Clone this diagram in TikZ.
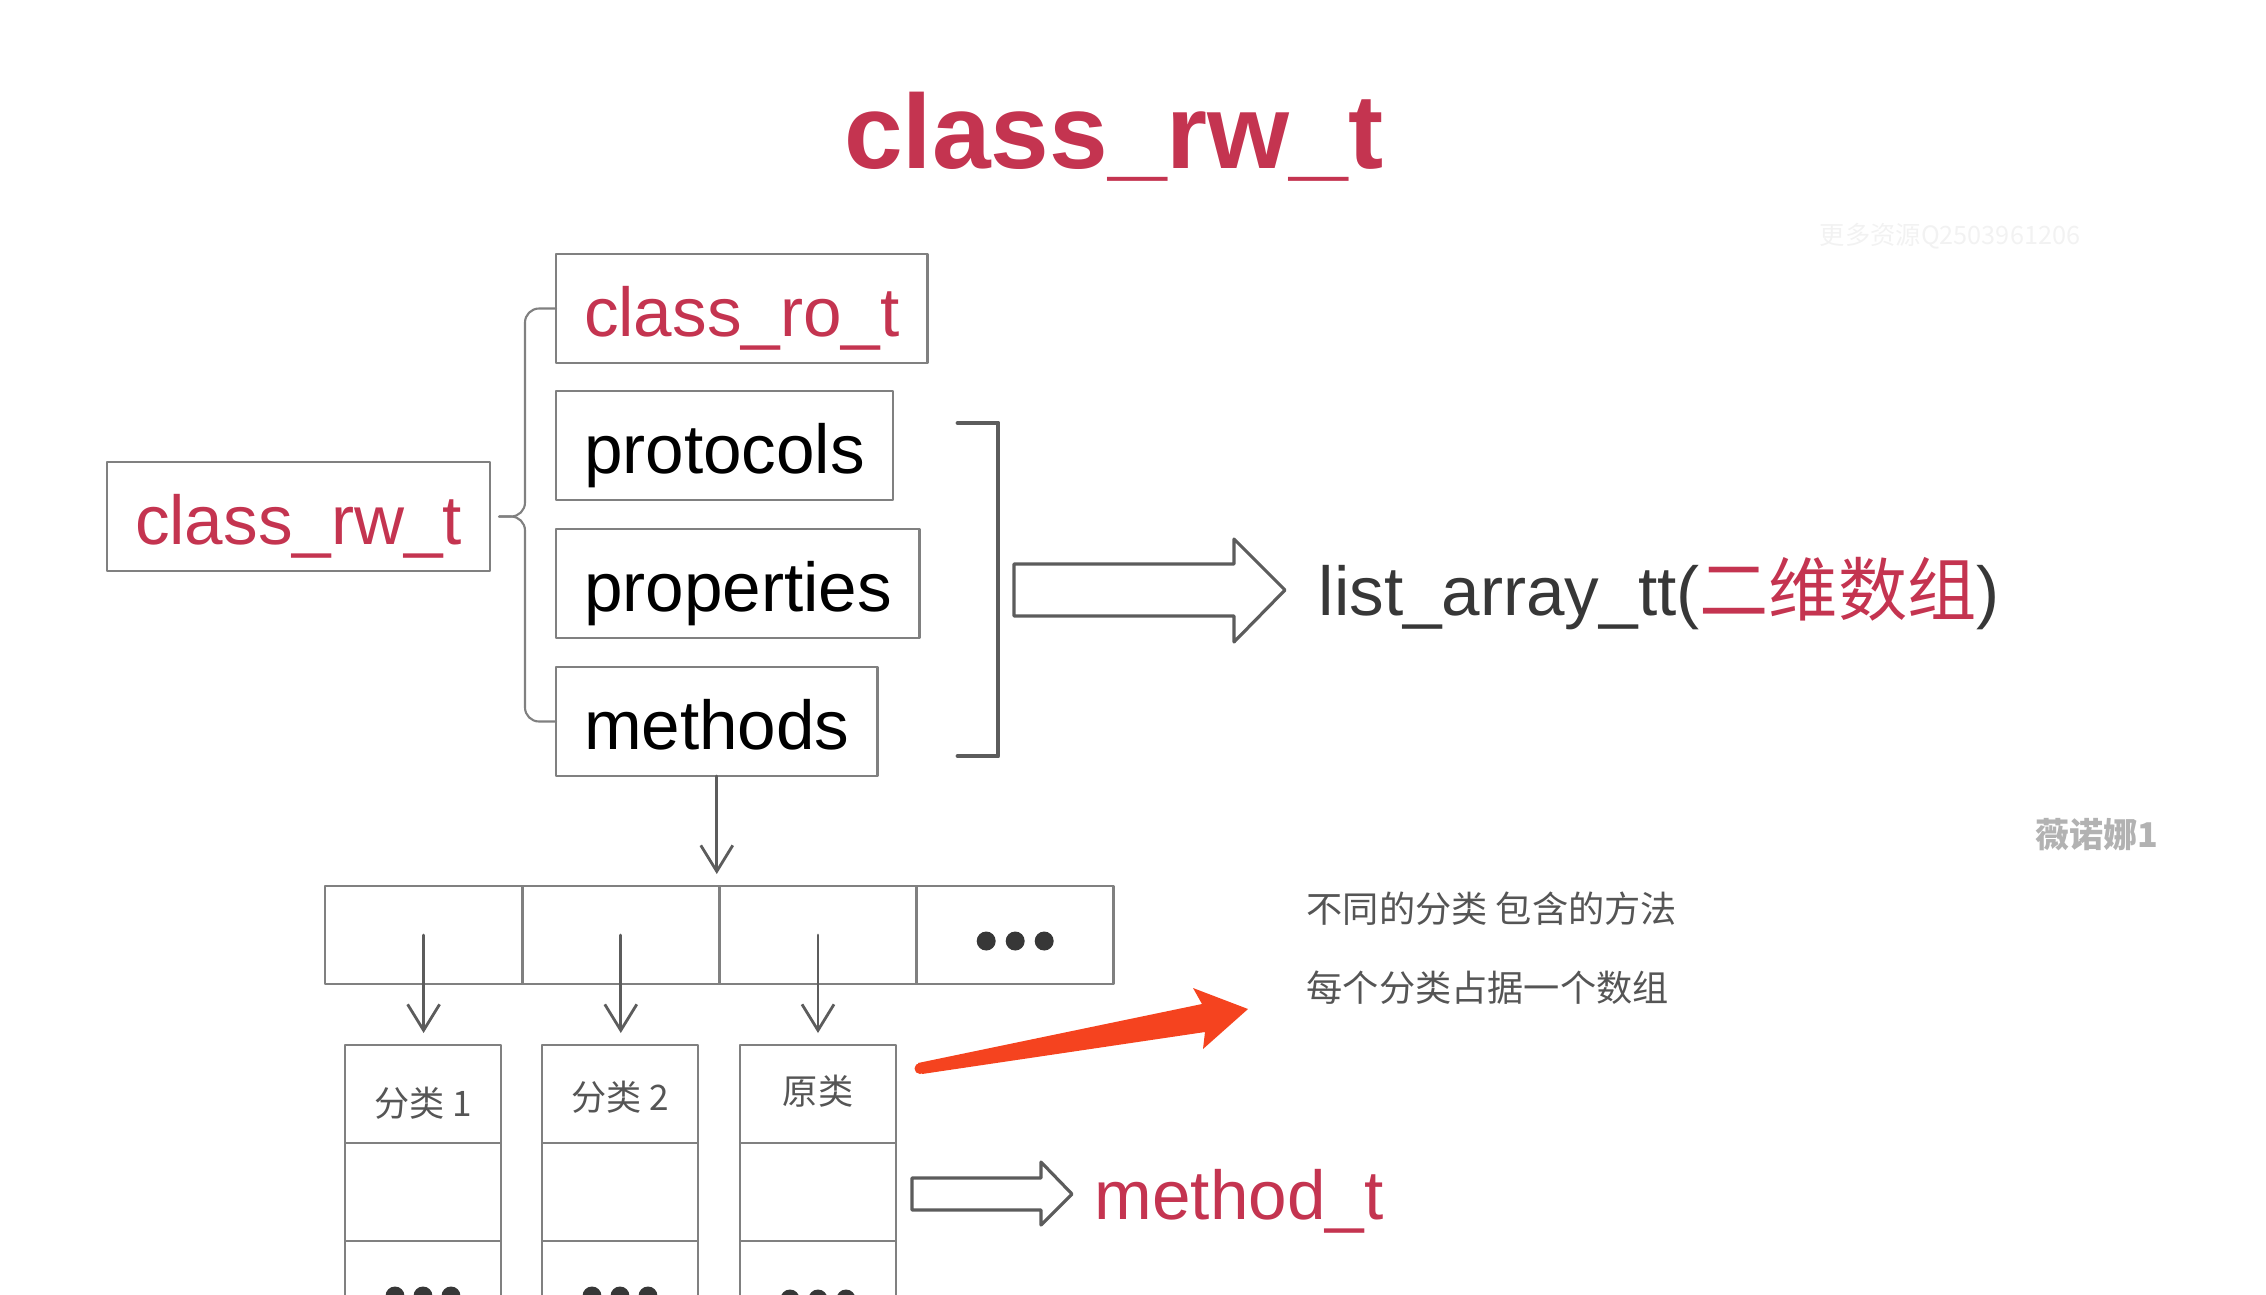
\documentclass[tikz,border=0pt]{standalone}
\usepackage{fontspec}
\setmainfont{Liberation Sans}
\newfontfamily\cjk{Noto Sans CJK SC}
\usetikzlibrary{positioning}
\usetikzlibrary{arrows.meta}

\definecolor{rwred}{RGB}{196,52,80}
\definecolor{boxgray}{RGB}{128,128,128}
\definecolor{linegray}{RGB}{92,92,92}
\definecolor{textgray}{RGB}{85,85,85}
\definecolor{darktext}{RGB}{55,55,55}
\definecolor{arrowred}{RGB}{245,67,31}

\tikzset{
  box/.style={draw=boxgray, line width=0.8pt, rectangle, outer sep=0pt, inner xsep=2.8mm,
    minimum height=10.9mm, text height=5.6mm, text depth=0pt, font=\fontsize{19.7}{24}\selectfont},
  cell/.style={draw=boxgray, line width=0.8pt, rectangle, outer sep=0pt, inner sep=0pt},
  acell/.style={cell, minimum width=19.72mm, minimum height=9.8mm},
  ccell/.style={cell, minimum width=15.6mm, minimum height=9.8mm, text depth=0pt, text=textgray, font=\cjk\fontsize{10}{12}\selectfont},
  conn/.style={draw=linegray, line width=0.8pt, ->, shorten >=1.2mm},
  bracelink/.style={draw=gray, line width=0.6pt, rounded corners=1.4mm},
  hollow/.style={draw=linegray, line width=0.9pt, fill=white},
  note/.style={text=textgray, inner sep=0pt, font=\cjk\fontsize{10.3}{12}\selectfont},
}

\begin{document}
\begin{tikzpicture}[x=0.1mm, y=-0.1mm, line cap=round, line join=round, >={Straight Barb[length=2.6mm,width=3.2mm]}]
		\useasboundingbox (0,0) rectangle (2266,1294);
		\clip (0,0) rectangle (2266,1294);
		% title
		\node[anchor=base, text=rwred, font=\fontsize{30}{36}\selectfont\bfseries] (title) at (1114,168) {class\_rw\_t};
		% struct boxes
		\node[box, anchor=north west, text=rwred] (rw) at (107,462) {class\_rw\_t};
		\node[box, anchor=north west, text=rwred] (ro) at (556,254) {class\_ro\_t};
		\node[box, below=2.8mm of ro.south west, anchor=north west] (protocols) {protocols};
		\node[box, below=2.9mm of protocols.south west, anchor=north west] (properties) {properties};
		\node[box, below=2.9mm of properties.south west, anchor=north west] (methods) {methods};
		% brace
		\coordinate (tip) at ([xshift=0.9mm]rw.east);
		\draw[bracelink] (ro.west) -- ++(-3.1mm,0) |- (tip);
		\draw[bracelink] (methods.west) -- ++(-3.1mm,0) |- (tip);
		% bracket
		\draw[linegray, line width=1.4pt] (958,423) -- (998,423) -- (998,756) -- (958,756);
		% list_array_tt
		\draw[hollow] (1014,564) -- (1234,564) -- (1234,539) -- (1285,590) -- (1234,642) -- (1234,616) -- (1014,616) -- cycle;
		\node[anchor=base west, inner sep=0pt, text=darktext, font=\fontsize{19.7}{24}\selectfont] (list) at (1318,615) {list\_array\_tt(\textcolor{rwred}{\cjk 二维数组})};
		% outer array
		\node[acell, anchor=north west] (a1) at (325,886) {};
		\node[acell, right=0mm of a1] (a2) {};
		\node[acell, right=0mm of a2] (a3) {};
		\node[acell, right=0mm of a3] (a4) {};
		\fill[darktext] ([xshift=-2.9mm, yshift=-0.6mm]a4.center) circle (0.95mm);
		\fill[darktext] ([yshift=-0.6mm]a4.center) circle (0.95mm);
		\fill[darktext] ([xshift=2.9mm, yshift=-0.6mm]a4.center) circle (0.95mm);
		\draw[conn] (methods.south) -- (methods.south |- a2.north);
		% inner arrays
		\node[ccell, anchor=north, text height=4.4mm] (cat1) at (423,1045) {分类 1};
		\node[ccell, below=0mm of cat1] (cat1m) {};
		\node[ccell, below=0mm of cat1m] (cat1e) {};
		\node[ccell, anchor=north, text height=3.3mm] (cat2) at (620,1045) {分类 2};
		\node[ccell, below=0mm of cat2] (cat2m) {};
		\node[ccell, below=0mm of cat2m] (cat2e) {};
		\node[ccell, anchor=north, text height=2.1mm] (orig) at (818,1045) {原类};
		\node[ccell, below=0mm of orig] (origm) {};
		\node[ccell, below=0mm of origm] (orige) {};
		\draw[conn] (a1.center) -- (a1.center |- cat1.north);
		\draw[conn] (a2.center) -- (a2.center |- cat2.north);
		\draw[conn] (a3.center) -- (a3.center |- orig.north);
		\fill[darktext] ([xshift=-2.8mm, yshift=-0.6mm]cat1e.center) circle (0.95mm);
		\fill[darktext] ([yshift=-0.6mm]cat1e.center) circle (0.95mm);
		\fill[darktext] ([xshift=2.8mm, yshift=-0.6mm]cat1e.center) circle (0.95mm);
		\fill[darktext] ([xshift=-2.8mm, yshift=-0.6mm]cat2e.center) circle (0.95mm);
		\fill[darktext] ([yshift=-0.6mm]cat2e.center) circle (0.95mm);
		\fill[darktext] ([xshift=2.8mm, yshift=-0.6mm]cat2e.center) circle (0.95mm);
		\fill[darktext] ([xshift=-2.8mm, yshift=-0.9mm]orige.center) circle (0.95mm);
		\fill[darktext] ([yshift=-0.9mm]orige.center) circle (0.95mm);
		\fill[darktext] ([xshift=2.8mm, yshift=-0.9mm]orige.center) circle (0.95mm);
		% red pointer
		\fill[arrowred] (918,1063) -- (1202,1004) -- (1193,988) -- (1248,1009) -- (1203,1049) -- (1205,1032) -- (922,1074) -- cycle;
		\fill[arrowred] (920,1068.5) circle (0.55mm);
		\node[note, anchor=base west] (note1) at (1306,922) {不同的分类 包含的方法};
		\node[note, anchor=base west] (note2) at (1306,1001) {每个分类占据一个数组};
		% method_t
		\draw[hollow] (912,1178) -- (1041,1178) -- (1041,1162) -- (1072,1194) -- (1041,1225) -- (1041,1210) -- (912,1210) -- cycle;
		\node[anchor=base west, inner sep=0pt, text=rwred, font=\fontsize{19.7}{24}\selectfont] (mt) at (1094,1219) {method\_t};
		% marks
		\node[text=black!30, font=\cjk\bfseries\fontsize{9.7}{12}\selectfont] (wm) at (2097,835) {薇诺娜1};
		\node[text=black!5, font=\cjk\fontsize{7.2}{9}\selectfont] (wmq) at (1950,236) {更多资源Q2503961206};
	\end{tikzpicture}
\end{document}
